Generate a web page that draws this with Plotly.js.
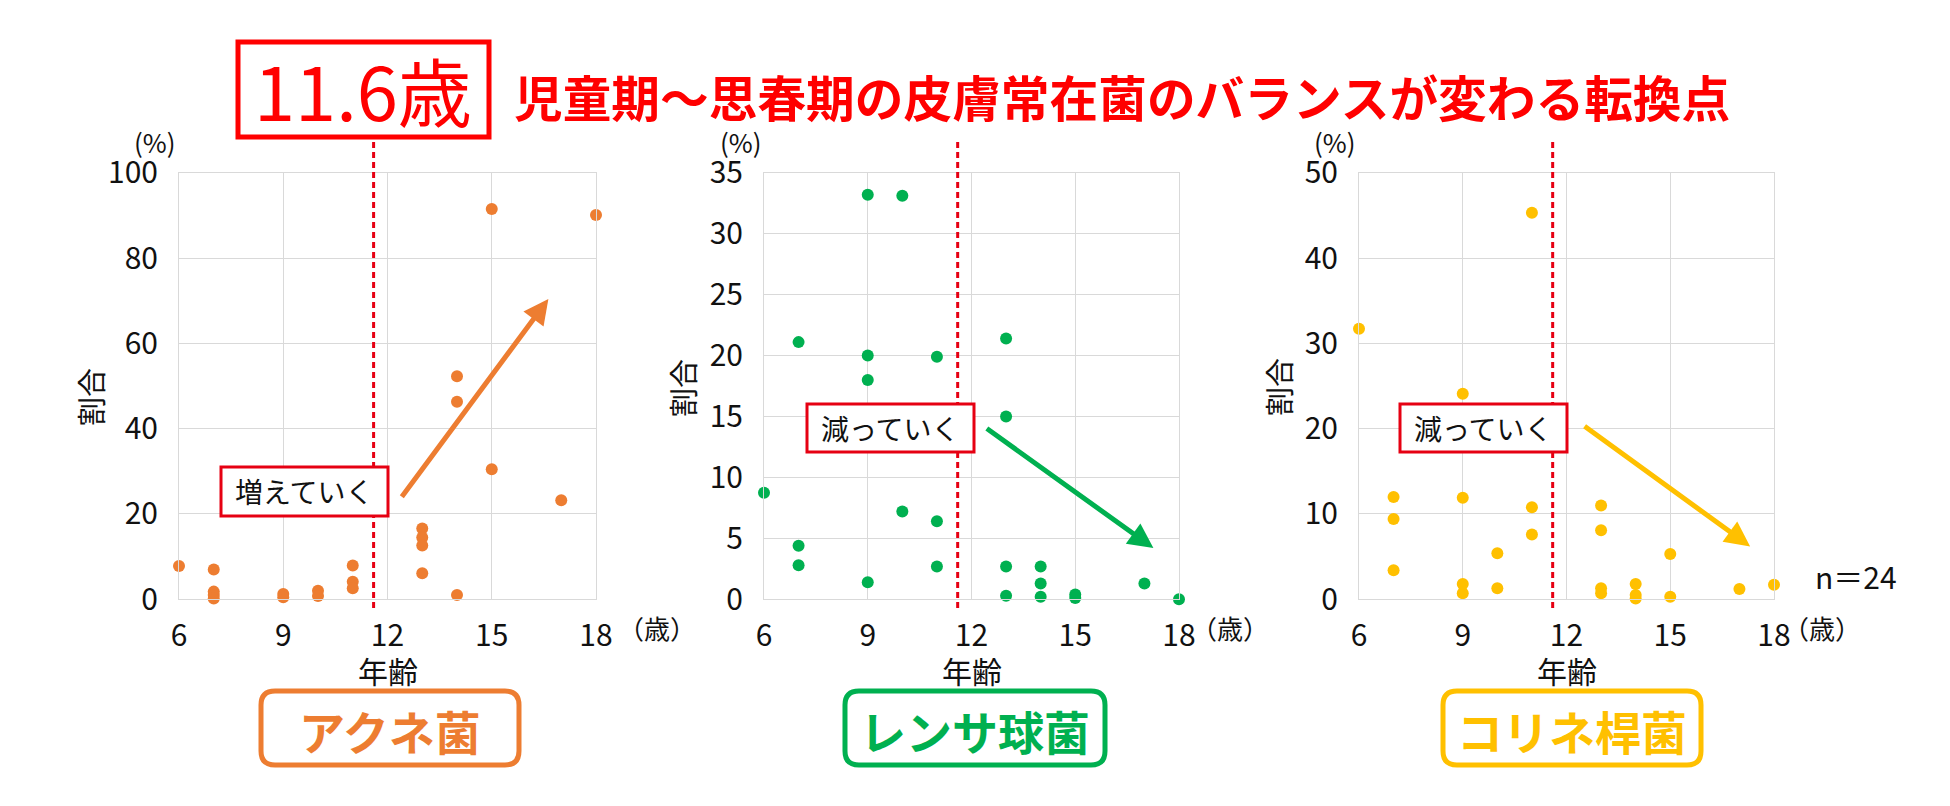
<!DOCTYPE html>
<html>
<head>
<meta charset="utf-8">
<script src="https://cdn.plot.ly/plotly-3.0.1.min.js"></script>
<style>html,body{margin:0;padding:0;background:#fff;}#chart{width:1950px;height:806px;}</style>
</head>
<body>
<div id="chart"></div>
<script>
// ---- Data ----
const xTicks = [6, 9, 12, 15, 18];
const transitionAge = 11.6;

const acneAge = [6, 7, 7, 7, 7, 9, 9, 10, 10, 11, 11, 11, 13, 13, 13, 13, 14, 14, 14, 15, 15, 17, 18];
const acneVal = [7.8, 7.0, 1.8, 1.0, 0.2, 1.25, 0.5, 2.0, 0.8, 7.9, 4.1, 2.6, 16.6, 14.5, 12.6, 6.1, 52.3, 46.3, 1.0, 91.5, 30.5, 23.2, 90.1];

const strepAge = [6, 7, 7, 7, 9, 9, 9, 9, 10, 10, 11, 11, 11, 13, 13, 13, 13, 14, 14, 14, 15, 15, 17, 18];
const strepVal = [8.75, 21.1, 4.4, 2.8, 33.2, 20.0, 18.0, 1.4, 33.1, 7.2, 19.9, 6.4, 2.7, 21.4, 15.0, 2.7, 0.3, 2.7, 1.3, 0.2, 0.4, 0.1, 1.3, 0.0];

const coryAge = [6, 7, 7, 7, 9, 9, 9, 9, 10, 10, 11, 11, 11, 13, 13, 13, 13, 14, 14, 14, 15, 15, 17, 18];
const coryVal = [31.7, 12.0, 9.4, 3.4, 24.1, 11.9, 1.8, 0.7, 5.4, 1.3, 45.3, 10.8, 7.6, 11.0, 8.1, 1.3, 0.7, 1.8, 0.5, 0.1, 5.3, 0.3, 1.2, 1.7];

const panelNames = ["アクネ菌", "レンサ球菌", "コリネ桿菌"];
const yMax = [100, 35, 50];
const yStep = [20, 5, 10];
const trendLabels = ["増えていく", "減っていく", "減っていく"];
// arrow tail/head in data units [x0, y0, x1, y1]
const trendAcne = [12.38, 23.7, 16.63, 70.4];
const trendStrep = [12.40, 14.1, 17.26, 4.2];
const trendCory = [12.48, 20.4, 17.31, 6.2];

const headline = "11.6歳";
const subtitle = "児童期～思春期の皮膚常在菌のバランスが変わる転換点";
const sampleNote = "n＝24";

// ---- Styling ----
const W = 1950, H = 806;
const FONT = '"Noto Sans CJK JP", "Noto Sans", sans-serif';
const colors = ["#ED7D31", "#00B050", "#FFC000"];
const RED = "#FF0000";
const BOXRED = "#E60012";
const GRID = "#D9D9D9";
const px = p => p / W;
const py = p => 1 - p / H;

const domainsX = [[179, 596], [764, 1179], [1359, 1774]];
const plotTop = 172.7, plotBottom = 599.3;
const series = [[acneAge, acneVal], [strepAge, strepVal], [coryAge, coryVal]];
const trends = [trendAcne, trendStrep, trendCory];

const data = series.map((s, i) => ({
  type: "scatter", mode: "markers",
  x: s[0], y: s[1],
  xaxis: i === 0 ? "x" : "x" + (i + 1),
  yaxis: i === 0 ? "y" : "y" + (i + 1),
  marker: { color: colors[i], size: 12 },
  cliponaxis: false, hoverinfo: "x+y"
}));

const layout = {
  width: W, height: H,
  margin: { l: 0, r: 0, t: 0, b: 0 },
  paper_bgcolor: "#fff", plot_bgcolor: "#fff",
  showlegend: false,
  font: { family: FONT, color: "#111" },
  shapes: [], annotations: []
};

for (let i = 0; i < 3; i++) {
  const xa = i === 0 ? "xaxis" : "xaxis" + (i + 1);
  const ya = i === 0 ? "yaxis" : "yaxis" + (i + 1);
  const xr = i === 0 ? "x" : "x" + (i + 1);
  const yr = i === 0 ? "y" : "y" + (i + 1);
  const d = domainsX[i];
  layout[xa] = {
    domain: [px(d[0]), px(d[1])], anchor: yr,
    range: [6, 18], tickvals: xTicks, ticktext: xTicks.map(String),
    showgrid: true, gridcolor: GRID, gridwidth: 1,
    showline: true, linecolor: GRID, linewidth: 1, mirror: true,
    zeroline: false, ticks: "", ticklabelstandoff: 10,
    tickfont: { family: FONT, size: 30, color: "#111" }, fixedrange: true
  };
  const yt = [];
  for (let v = 0; v <= yMax[i]; v += yStep[i]) yt.push(v);
  layout[ya] = {
    domain: [py(plotBottom), py(plotTop)], anchor: xr,
    range: [0, yMax[i]], tickvals: yt, ticktext: yt.map(String),
    showgrid: true, gridcolor: GRID, gridwidth: 1,
    showline: true, linecolor: GRID, linewidth: 1, mirror: true,
    zeroline: false, ticks: "", ticklabelstandoff: 14,
    tickfont: { family: FONT, size: 30, color: "#111" }, fixedrange: true
  };

  // dashed transition line
  layout.shapes.push({
    type: "line", xref: xr, yref: "paper",
    x0: transitionAge, x1: transitionAge, y0: py(608), y1: py(140),
    line: { color: BOXRED, width: 3, dash: "6px,4px" }, layer: "above"
  });

  // trend arrow
  const t = trends[i];
  layout.annotations.push({
    xref: xr, yref: yr, axref: xr, ayref: yr,
    x: t[2], y: t[3], ax: t[0], ay: t[1],
    text: "", showarrow: true, arrowhead: 2, arrowsize: 1, arrowwidth: 5,
    arrowcolor: colors[i]
  });
}

// trend label boxes
const trendBoxes = [[221, 467, 388, 516], [807, 404, 974, 452], [1400, 404, 1567, 452]];
trendBoxes.forEach((b, i) => {
  layout.shapes.push({
    type: "rect", xref: "paper", yref: "paper",
    x0: px(b[0]), x1: px(b[2]), y0: py(b[3]), y1: py(b[1]),
    line: { color: BOXRED, width: 3 }, fillcolor: "#fff", layer: "above"
  });
  layout.annotations.push({
    xref: "paper", yref: "paper", x: px((b[0] + b[2]) / 2), y: py((b[1] + b[3]) / 2),
    xanchor: "center", yanchor: "middle", showarrow: false,
    text: trendLabels[i], font: { family: FONT, size: 28, color: "#111" }
  });
});

// axis labels
const yTitleX = [90, 682, 1278];
const yTitleY = [397, 388, 387];
const pctX = [155, 741, 1335];
const ageUnitX = [657, 1230, 1822];
for (let i = 0; i < 3; i++) {
  const d = domainsX[i];
  layout.annotations.push({
    xref: "paper", yref: "paper", x: px(yTitleX[i]), y: py(yTitleY[i]),
    xanchor: "center", yanchor: "middle", showarrow: false, textangle: -90,
    text: "割合", font: { family: FONT, size: 29, color: "#111" }
  });
  layout.annotations.push({
    xref: "paper", yref: "paper", x: px(pctX[i]), y: py(141),
    xanchor: "center", yanchor: "middle", showarrow: false,
    text: "(%)", font: { family: FONT, size: 26, color: "#111" }
  });
  layout.annotations.push({
    xref: "paper", yref: "paper", x: px((d[0] + d[1]) / 2), y: py(670),
    xanchor: "center", yanchor: "middle", showarrow: false,
    text: "年齢", font: { family: FONT, size: 30, color: "#111" }
  });
  layout.annotations.push({
    xref: "paper", yref: "paper", x: px(ageUnitX[i]), y: py(627),
    xanchor: "center", yanchor: "middle", showarrow: false,
    text: "（歳）", font: { family: FONT, size: 26, color: "#111" }
  });
}

// n=24
layout.annotations.push({
  xref: "paper", yref: "paper", x: px(1856), y: py(576),
  xanchor: "center", yanchor: "middle", showarrow: false,
  text: sampleNote, font: { family: FONT, size: 30, color: "#111" }
});

// headline box
layout.shapes.push({
  type: "rect", xref: "paper", yref: "paper",
  x0: px(238), x1: px(489), y0: py(137), y1: py(42),
  line: { color: RED, width: 5 }, fillcolor: "#fff", layer: "above"
});
layout.annotations.push({
  xref: "paper", yref: "paper", x: px(363), y: py(89),
  xanchor: "center", yanchor: "middle", showarrow: false,
  text: headline, font: { family: FONT, size: 74, color: RED }
});
layout.annotations.push({
  xref: "paper", yref: "paper", x: px(512), y: py(96),
  xanchor: "left", yanchor: "middle", showarrow: false,
  text: "<b>" + subtitle + "</b>", font: { family: FONT, size: 48.7, color: RED }
});

// bacteria name boxes (rounded)
function roundRect(x0, y0, x1, y1, r) {
  const X = v => px(v).toFixed(5), Y = v => py(v).toFixed(5);
  return "M" + X(x0 + r) + "," + Y(y0) +
    " L" + X(x1 - r) + "," + Y(y0) + " Q" + X(x1) + "," + Y(y0) + " " + X(x1) + "," + Y(y0 + r) +
    " L" + X(x1) + "," + Y(y1 - r) + " Q" + X(x1) + "," + Y(y1) + " " + X(x1 - r) + "," + Y(y1) +
    " L" + X(x0 + r) + "," + Y(y1) + " Q" + X(x0) + "," + Y(y1) + " " + X(x0) + "," + Y(y1 - r) +
    " L" + X(x0) + "," + Y(y0 + r) + " Q" + X(x0) + "," + Y(y0) + " " + X(x0 + r) + "," + Y(y0) + " Z";
}
const nameBoxes = [[261, 691, 519, 765], [845, 691, 1105, 765], [1443, 691, 1701, 765]];
nameBoxes.forEach((b, i) => {
  layout.shapes.push({
    type: "path", xref: "paper", yref: "paper",
    path: roundRect(b[0], b[1], b[2], b[3], 14),
    line: { color: colors[i], width: 5 }, fillcolor: "#fff"
  });
  layout.annotations.push({
    xref: "paper", yref: "paper", x: px((b[0] + b[2]) / 2), y: py((b[1] + b[3]) / 2 + 2),
    xanchor: "center", yanchor: "middle", showarrow: false,
    text: "<b>" + panelNames[i] + "</b>", font: { family: FONT, size: 46, color: colors[i] }
  });
});

Plotly.newPlot("chart", data, layout, { displayModeBar: false, staticPlot: true });
</script>
</body>
</html>
